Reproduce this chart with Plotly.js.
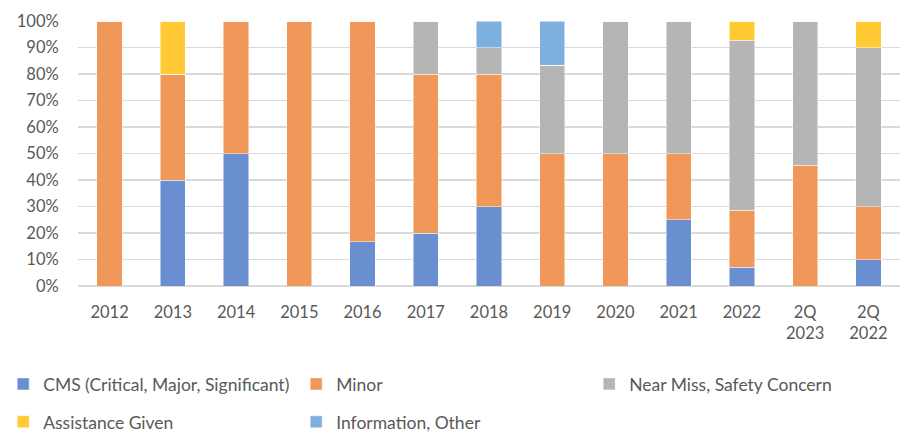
<!DOCTYPE html>
<html><head><meta charset="utf-8">
<script src="https://cdn.plot.ly/plotly-3.0.1.min.js"></script>
<style>body{margin:0;background:#fff}#c{width:908px;height:432px}</style>
</head><body><div id="c"></div>
<script>
const categories = ["2012","2013","2014","2015","2016","2017","2018","2019","2020","2021","2022","2Q<br>2023","2Q<br>2022"];
const cms        = [0, 40, 50, 0, 16.7, 20, 30, 0,    0,  25, 7.1,  0,    10];
const minor      = [100,40,50,100,83.3, 60, 50, 50,   50, 25, 21.4, 45.5, 20];
const nearMiss   = [0, 0,  0,  0, 0,    20, 10, 33.3, 50, 50, 64.3, 54.5, 60];
const assistance = [0, 20, 0,  0, 0,    0,  0,  0,    0,  0,  7.1,  0,    10];
const infoOther  = [0, 0,  0,  0, 0,    0,  10, 16.7, 0,  0,  0,    0,    0];
const seriesNames = ["CMS (Critical, Major, Significant)","Minor","Near Miss, Safety Concern","Assistance Given","Information, Other"];
const colors = ["#6A8FD0","#F0975A","#B5B5B5","#FFCA33","#7EB0DF"];
const vals = [cms, minor, nearMiss, assistance, infoOther];
const traces = vals.map((v,i)=>({
  type:'bar', x:categories, y:v, name:seriesNames[i],
  marker:{color:colors[i], line:{color:'rgba(255,255,255,0.6)', width:0.8}},
  legend: i<3 ? 'legend' : 'legend2', hoverinfo:'skip'
}));
const font = {family:'Lato, "Open Sans", sans-serif', size:16.5, color:'#595959'};
const lfont = {family:'Lato, "Open Sans", sans-serif', size:17.5, color:'#595959'};
const legBase = {orientation:'h', traceorder:'normal', xref:'paper', x:-0.091, xanchor:'left', yref:'paper', yanchor:'top', entrywidth:248, entrywidthmode:'pixels', font:lfont, bgcolor:'rgba(0,0,0,0)'};
const layout = {
  width:908, height:432, margin:{l:78,r:8,t:21,b:146,autoexpand:false},
  barmode:'stack', bargap:0.6, font:font,
  paper_bgcolor:'#fff', plot_bgcolor:'#fff',
  xaxis:{type:'category', showgrid:false, zeroline:false, showline:false, ticks:'outside', ticklen:11, tickcolor:'rgba(0,0,0,0)', tickfont:font, tickangle:0},
  yaxis:{range:[0,100], dtick:10, ticksuffix:'%', ticks:'outside', ticklen:15, tickcolor:'rgba(0,0,0,0)', gridcolor:'#D9D9D9', gridwidth:1.5, zeroline:true, zerolinecolor:'#D9D9D9', zerolinewidth:1.5, tickfont:font, fixedrange:true},
  legend:Object.assign({}, legBase, {y:-0.302}),
  legend2:Object.assign({}, legBase, {y:-0.445}),
  showlegend:true
};
Plotly.newPlot('c', traces, layout, {displayModeBar:false, staticPlot:true});
</script></body></html>
